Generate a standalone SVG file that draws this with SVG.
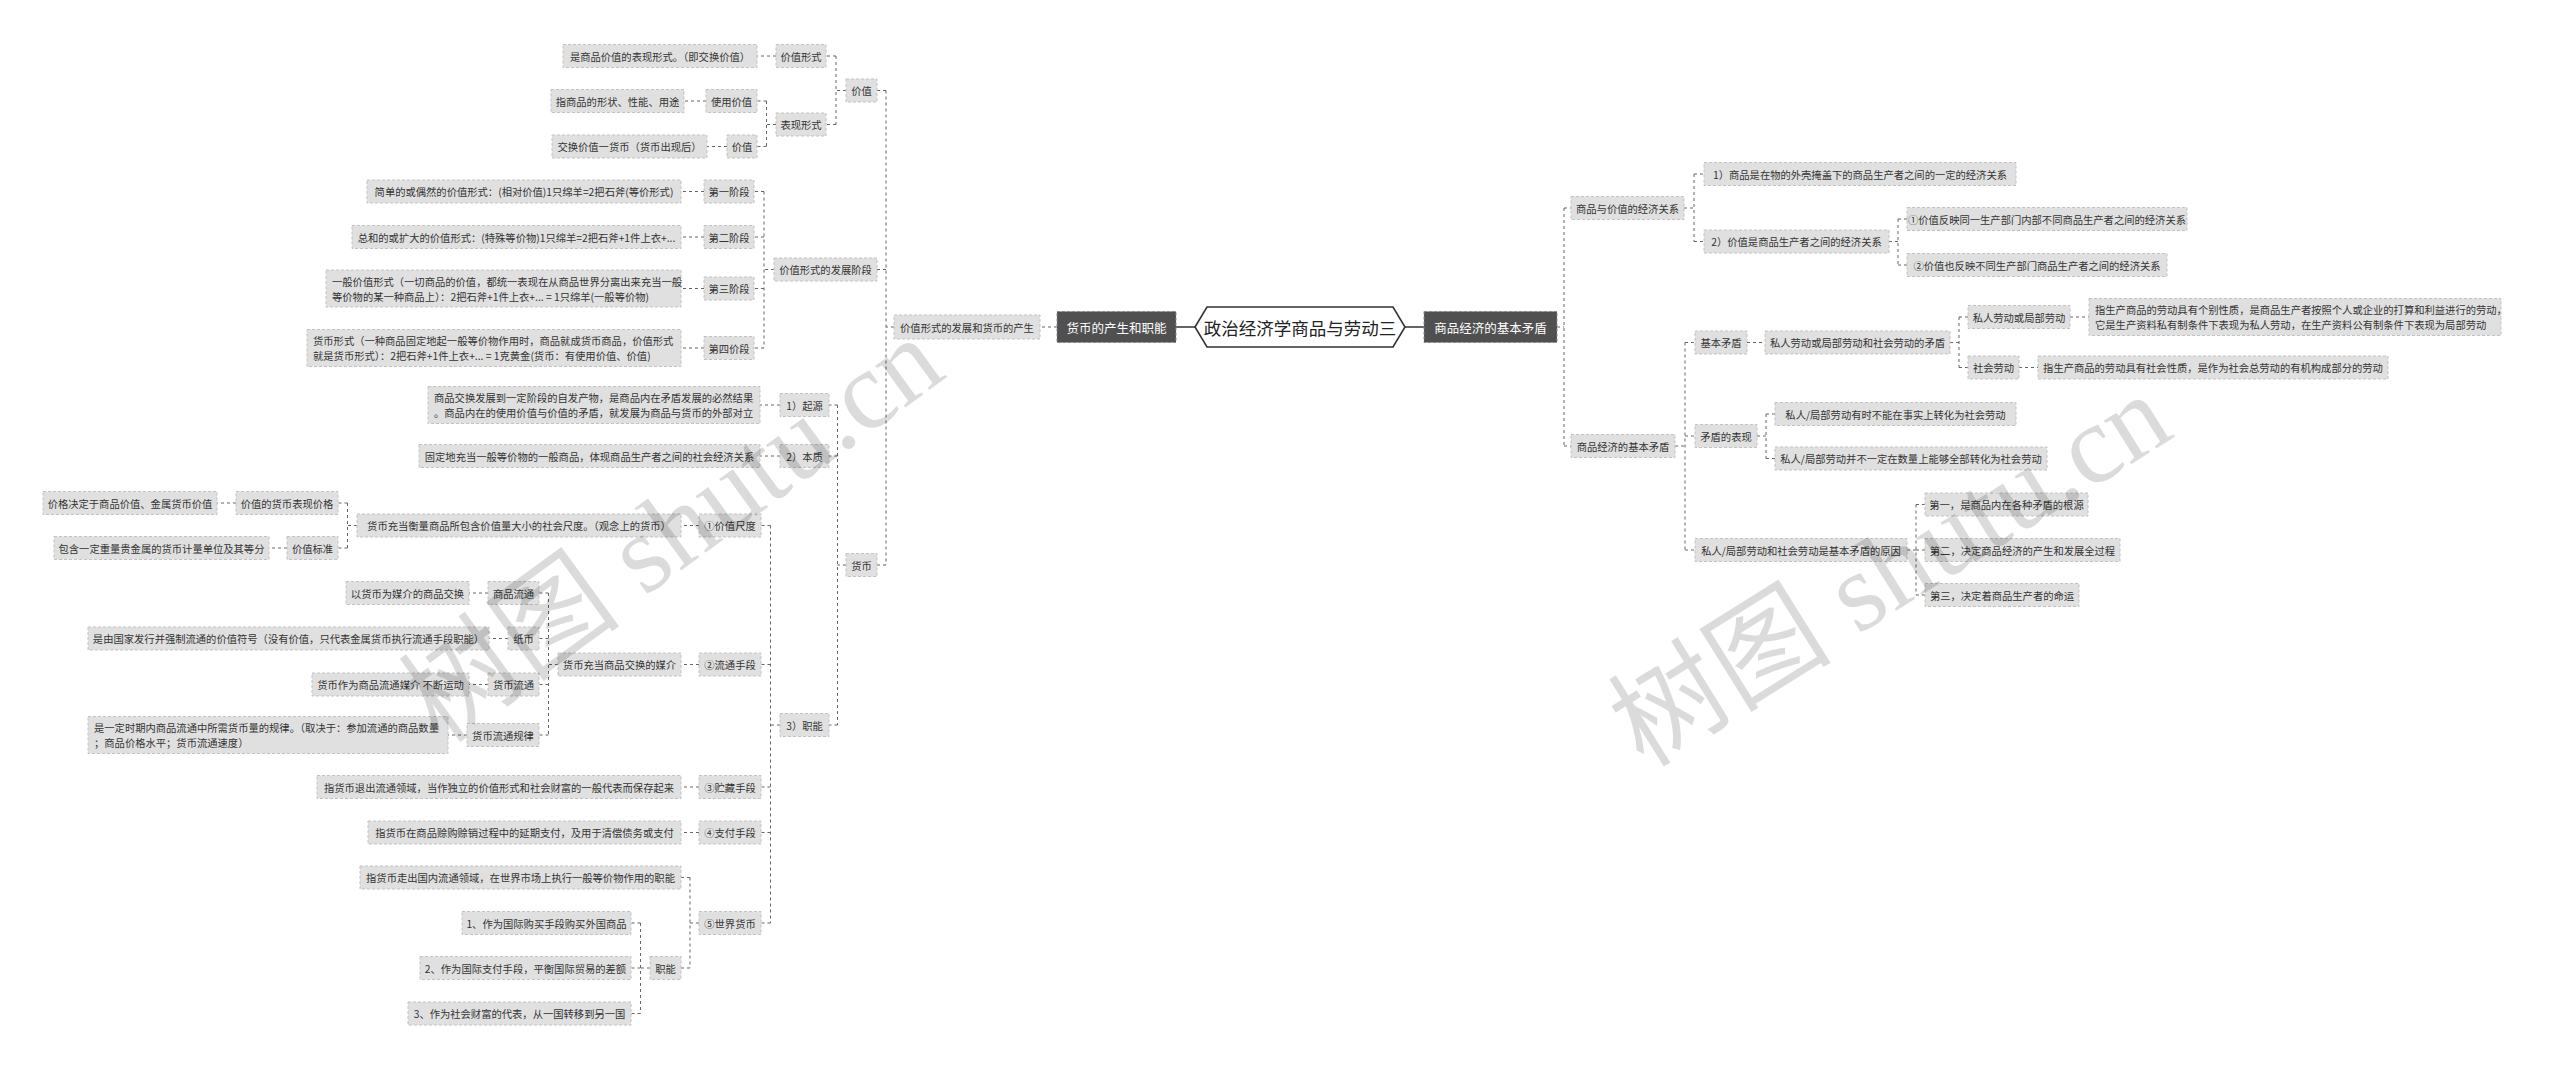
<svg xmlns="http://www.w3.org/2000/svg" width="2560" height="1069" viewBox="0 0 2560 1069">
<style>
.b{fill:#e0e0e0;stroke:#c2c2c2;stroke-width:1;stroke-dasharray:3 2}
.d{fill:#505050;stroke:#8a8a8a;stroke-width:1;stroke-dasharray:3 2}
.t{font-family:"Noto Sans CJK SC","Noto Sans",sans-serif;font-size:10.3px;fill:#333;dominant-baseline:central;text-anchor:middle}
.tl{font-family:"Noto Sans CJK SC","Noto Sans",sans-serif;font-size:10.3px;fill:#333;dominant-baseline:central;text-anchor:start}
.dt{font-family:"Noto Sans CJK SC","Noto Sans",sans-serif;font-size:12.5px;fill:#fff;dominant-baseline:central;text-anchor:middle}
.rt{font-family:"Noto Sans CJK SC","Noto Sans",sans-serif;font-size:17.5px;fill:#222;dominant-baseline:central;text-anchor:middle}
.c{fill:none;stroke:#666;stroke-width:1;stroke-dasharray:3 3}
.s{fill:none;stroke:#333;stroke-width:1.6}
.wm{font-family:"Liberation Serif","Noto Sans CJK SC",serif;font-size:112px;fill:#000;fill-opacity:0.14;text-anchor:middle;dominant-baseline:central}
</style>
<rect width="2560" height="1069" fill="#fff"/>
<g id="connectors">
<path class="s" d="M1176,327H1195M1405,327H1424"/>
<path class="c" d="M1057,327H1040"/>
<path class="c" d="M894,327H886M886,90.5V565M886,90.5H877M886,269.5H877M886,565H877"/>
<path class="c" d="M846,90.5H836M836,56V124.5M836,56H826M836,124.5H826"/>
<path class="c" d="M776,56H757"/>
<path class="c" d="M776,124.5H766.5M766.5,101V146.5M766.5,101H757M766.5,146.5H757"/>
<path class="c" d="M706,101H684M727,146.5H707"/>
<path class="c" d="M774,269.5H764M764,191.5V348M764,191.5H754M764,237H754M764,288.5H754M764,348H754"/>
<path class="c" d="M704,191.5H681M704,237H681M704,288.5H681M704,348H681"/>
<path class="c" d="M846,565H837.5M837.5,405V725M837.5,405H829M837.5,456H829M837.5,725H829"/>
<path class="c" d="M780,405H760M780,456H760"/>
<path class="c" d="M780,725H770.5M770.5,525.5V923M770.5,525.5H761M770.5,664.5H761M770.5,787H761M770.5,832.5H761M770.5,923H761"/>
<path class="c" d="M699,525.5H681"/>
<path class="c" d="M357,525.5H347.5M347.5,503V548M347.5,503H338M347.5,548H338"/>
<path class="c" d="M236,503H217M287,548H269"/>
<path class="c" d="M699,664.5H681"/>
<path class="c" d="M558,664.5H548.5M548.5,593V735M548.5,593H539M548.5,638.5H539M548.5,684.5H539M548.5,735H539"/>
<path class="c" d="M488,593H469M508,638.5H489M488,684.5H469M467,735H448"/>
<path class="c" d="M699,787H681M699,832.5H681"/>
<path class="c" d="M699,923H690M690,877.5V968M690,877.5H681M690,968H681"/>
<path class="c" d="M650,968H640.5M640.5,923V1013.5M640.5,923H631M640.5,968H631M640.5,1013.5H631"/>
<path class="c" d="M1557,327H1564M1564,208V446M1564,208H1571M1564,446H1571"/>
<path class="c" d="M1684,208H1694M1694,174V241.5M1694,174H1704M1694,241.5H1704"/>
<path class="c" d="M1889,241.5H1898M1898,219V265M1898,219H1907M1898,265H1907"/>
<path class="c" d="M1675,446H1685M1685,342.5V550M1685,342.5H1695M1685,436H1695M1685,550H1695"/>
<path class="c" d="M1747,342.5H1765"/>
<path class="c" d="M1950,342.5H1959M1959,317V367.5M1959,317H1968M1959,367.5H1968"/>
<path class="c" d="M2070,317H2089M2019,367.5H2038"/>
<path class="c" d="M1757,436H1766M1766,414V458.5M1766,414H1775M1766,458.5H1775"/>
<path class="c" d="M1907,550H1916M1916,504.5V595M1916,504.5H1925M1916,550H1925M1916,595H1925"/>
</g>
<g id="root"><path d="M1195,327L1207,307H1393L1405,327L1393,347H1207Z" fill="#fff" stroke="#333" stroke-width="1.6"/><text class="rt" x="1300" y="327">政治经济学商品与劳动三</text></g>
<g id="n-L1L"><rect class="d" x="1057" y="311.5" width="119" height="31"/><text class="dt" x="1116.5" y="327">货币的产生和职能</text></g>
<g id="n-L2L"><rect class="b" x="894" y="315" width="146" height="24"/><text class="t" x="967" y="327">价值形式的发展和货币的产生</text></g>
<g id="n-jz"><rect class="b" x="846" y="79" width="31" height="23"/><text class="t" x="861.5" y="90.5">价值</text></g>
<g id="n-jzxs"><rect class="b" x="776" y="44.5" width="50" height="23"/><text class="t" x="801" y="56">价值形式</text></g>
<g id="n-l-jzxs"><rect class="b" x="563" y="44.5" width="194" height="23"/><text class="t" x="660" y="56">是商品价值的表现形式。（即交换价值）</text></g>
<g id="n-bxxs"><rect class="b" x="776" y="113" width="50" height="23"/><text class="t" x="801" y="124.5">表现形式</text></g>
<g id="n-syjz"><rect class="b" x="706" y="89.5" width="51" height="23"/><text class="t" x="731.5" y="101">使用价值</text></g>
<g id="n-l-syjz"><rect class="b" x="551" y="89.5" width="133" height="23"/><text class="t" x="617.5" y="101">指商品的形状、性能、用途</text></g>
<g id="n-jz2"><rect class="b" x="727" y="135" width="30" height="23"/><text class="t" x="742" y="146.5">价值</text></g>
<g id="n-l-jz2"><rect class="b" x="552" y="135" width="155" height="23"/><text class="t" x="629.5" y="146.5">交换价值一货币（货币出现后）</text></g>
<g id="n-fzjd"><rect class="b" x="774" y="258" width="103" height="23"/><text class="t" x="825.5" y="269.5">价值形式的发展阶段</text></g>
<g id="n-s1"><rect class="b" x="704" y="180" width="50" height="23"/><text class="t" x="729" y="191.5">第一阶段</text></g>
<g id="n-l-s1"><rect class="b" x="367" y="180" width="314" height="23"/><text class="t" x="524" y="191.5">简单的或偶然的价值形式：(相对价值)1只绵羊=2把石斧(等价形式)</text></g>
<g id="n-s2"><rect class="b" x="704" y="225.5" width="50" height="23"/><text class="t" x="729" y="237">第二阶段</text></g>
<g id="n-l-s2"><rect class="b" x="352" y="225.5" width="329" height="23"/><text class="t" x="516.5" y="237">总和的或扩大的价值形式：(特殊等价物)1只绵羊=2把石斧+1件上衣+...</text></g>
<g id="n-s3"><rect class="b" x="704" y="277" width="50" height="23"/><text class="t" x="729" y="288.5">第三阶段</text></g>
<g id="n-l-s3"><rect class="b" x="326" y="270" width="355" height="37"/><text class="tl" x="332" y="281">一般价值形式（一切商品的价值，都统一表现在从商品世界分离出来充当一般</text><text class="tl" x="332" y="296">等价物的某一种商品上）：2把石斧+1件上衣+... = 1只绵羊(一般等价物)</text></g>
<g id="n-s4"><rect class="b" x="704" y="336.5" width="50" height="23"/><text class="t" x="729" y="348">第四价段</text></g>
<g id="n-l-s4"><rect class="b" x="307" y="329.5" width="374" height="37"/><text class="tl" x="313" y="340.5">货币形式（一种商品固定地起一般等价物作用时，商品就成货币商品，价值形式</text><text class="tl" x="313" y="355.5">就是货币形式）：2把石斧+1件上衣+... = 1克黄金(货币：有使用价值、价值)</text></g>
<g id="n-hb"><rect class="b" x="846" y="553.5" width="31" height="23"/><text class="t" x="861.5" y="565">货币</text></g>
<g id="n-qy"><rect class="b" x="780" y="393.5" width="49" height="23"/><text class="t" x="804.5" y="405">1）起源</text></g>
<g id="n-l-qy"><rect class="b" x="428" y="386.5" width="332" height="37"/><text class="tl" x="434" y="397.5">商品交换发展到一定阶段的自发产物，是商品内在矛盾发展的必然结果</text><text class="tl" x="434" y="412.5">。商品内在的使用价值与价值的矛盾，就发展为商品与货币的外部对立</text></g>
<g id="n-bz"><rect class="b" x="780" y="444.5" width="49" height="23"/><text class="t" x="804.5" y="456">2）本质</text></g>
<g id="n-l-bz"><rect class="b" x="419" y="444.5" width="341" height="23"/><text class="t" x="589.5" y="456">固定地充当一般等价物的一般商品，体现商品生产者之间的社会经济关系</text></g>
<g id="n-zn"><rect class="b" x="780" y="713.5" width="49" height="23"/><text class="t" x="804.5" y="725">3）职能</text></g>
<g id="n-f1"><rect class="b" x="699" y="514" width="62" height="23"/><text class="t" x="730" y="525.5">①价值尺度</text></g>
<g id="n-f1c"><rect class="b" x="357" y="514" width="324" height="23"/><text class="t" x="519" y="525.5">货币充当衡量商品所包含价值量大小的社会尺度。（观念上的货币）</text></g>
<g id="n-jg"><rect class="b" x="236" y="491.5" width="102" height="23"/><text class="t" x="287" y="503">价值的货币表现价格</text></g>
<g id="n-l-jg"><rect class="b" x="43" y="491.5" width="174" height="23"/><text class="t" x="130" y="503">价格决定于商品价值、金属货币价值</text></g>
<g id="n-jzbz"><rect class="b" x="287" y="536.5" width="51" height="23"/><text class="t" x="312.5" y="548">价值标准</text></g>
<g id="n-l-jzbz"><rect class="b" x="54" y="536.5" width="215" height="23"/><text class="t" x="161.5" y="548">包含一定重量贵金属的货币计量单位及其等分</text></g>
<g id="n-f2"><rect class="b" x="699" y="653" width="62" height="23"/><text class="t" x="730" y="664.5">②流通手段</text></g>
<g id="n-f2c"><rect class="b" x="558" y="653" width="123" height="23"/><text class="t" x="619.5" y="664.5">货币充当商品交换的媒介</text></g>
<g id="n-splt"><rect class="b" x="488" y="581.5" width="51" height="23"/><text class="t" x="513.5" y="593">商品流通</text></g>
<g id="n-l-splt"><rect class="b" x="346" y="581.5" width="123" height="23"/><text class="t" x="407.5" y="593">以货币为媒介的商品交换</text></g>
<g id="n-zb"><rect class="b" x="508" y="627" width="31" height="23"/><text class="t" x="523.5" y="638.5">纸币</text></g>
<g id="n-l-zb"><rect class="b" x="88" y="627" width="401" height="23"/><text class="t" x="288.5" y="638.5">是由国家发行并强制流通的价值符号（没有价值，只代表金属货币执行流通手段职能）</text></g>
<g id="n-hblt"><rect class="b" x="488" y="673" width="51" height="23"/><text class="t" x="513.5" y="684.5">货币流通</text></g>
<g id="n-l-hblt"><rect class="b" x="312" y="673" width="157" height="23"/><text class="t" x="390.5" y="684.5">货币作为商品流通媒介 不断运动</text></g>
<g id="n-gl"><rect class="b" x="467" y="723.5" width="72" height="23"/><text class="t" x="503" y="735">货币流通规律</text></g>
<g id="n-l-gl"><rect class="b" x="88" y="716.5" width="360" height="37"/><text class="tl" x="94" y="727.5">是一定时期内商品流通中所需货币量的规律。（取决于：参加流通的商品数量</text><text class="tl" x="94" y="742.5">；商品价格水平；货币流通速度）</text></g>
<g id="n-f3"><rect class="b" x="699" y="775.5" width="62" height="23"/><text class="t" x="730" y="787">③贮藏手段</text></g>
<g id="n-l-f3"><rect class="b" x="317" y="775.5" width="364" height="23"/><text class="t" x="499" y="787">指货币退出流通领域，当作独立的价值形式和社会财富的一般代表而保存起来</text></g>
<g id="n-f4"><rect class="b" x="699" y="821" width="62" height="23"/><text class="t" x="730" y="832.5">④支付手段</text></g>
<g id="n-l-f4"><rect class="b" x="368" y="821" width="313" height="23"/><text class="t" x="524.5" y="832.5">指货币在商品赊购赊销过程中的延期支付，及用于清偿债务或支付</text></g>
<g id="n-f5"><rect class="b" x="699" y="911.5" width="62" height="23"/><text class="t" x="730" y="923">⑤世界货币</text></g>
<g id="n-l-f5"><rect class="b" x="360" y="866" width="321" height="23"/><text class="t" x="520.5" y="877.5">指货币走出国内流通领域，在世界市场上执行一般等价物作用的职能</text></g>
<g id="n-zn2"><rect class="b" x="650" y="956.5" width="31" height="23"/><text class="t" x="665.5" y="968">职能</text></g>
<g id="n-z1"><rect class="b" x="462" y="911.5" width="169" height="23"/><text class="t" x="546.5" y="923">1、作为国际购买手段购买外国商品</text></g>
<g id="n-z2"><rect class="b" x="420" y="956.5" width="211" height="23"/><text class="t" x="525.5" y="968">2、作为国际支付手段，平衡国际贸易的差额</text></g>
<g id="n-z3"><rect class="b" x="408" y="1002" width="223" height="23"/><text class="t" x="519.5" y="1013.5">3、作为社会财富的代表，从一国转移到另一国</text></g>
<g id="n-L1R"><rect class="d" x="1424" y="311.5" width="133" height="31"/><text class="dt" x="1490.5" y="327">商品经济的基本矛盾</text></g>
<g id="n-r1"><rect class="b" x="1571" y="196.5" width="113" height="23"/><text class="t" x="1627.5" y="208">商品与价值的经济关系</text></g>
<g id="n-r11"><rect class="b" x="1704" y="162.5" width="312" height="23"/><text class="t" x="1860" y="174">1）商品是在物的外壳掩盖下的商品生产者之间的一定的经济关系</text></g>
<g id="n-r12"><rect class="b" x="1704" y="230" width="185" height="23"/><text class="t" x="1796.5" y="241.5">2）价值是商品生产者之间的经济关系</text></g>
<g id="n-r121"><rect class="b" x="1907" y="207.5" width="280" height="23"/><text class="t" x="2047" y="219">①价值反映同一生产部门内部不同商品生产者之间的经济关系</text></g>
<g id="n-r122"><rect class="b" x="1907" y="253.5" width="260" height="23"/><text class="t" x="2037" y="265">②价值也反映不同生产部门商品生产者之间的经济关系</text></g>
<g id="n-r2"><rect class="b" x="1571" y="434.5" width="104" height="23"/><text class="t" x="1623" y="446">商品经济的基本矛盾</text></g>
<g id="n-jbmd"><rect class="b" x="1695" y="331" width="52" height="23"/><text class="t" x="1721" y="342.5">基本矛盾</text></g>
<g id="n-jbmdc"><rect class="b" x="1765" y="331" width="185" height="23"/><text class="t" x="1857.5" y="342.5">私人劳动或局部劳动和社会劳动的矛盾</text></g>
<g id="n-srld"><rect class="b" x="1968" y="305.5" width="102" height="23"/><text class="t" x="2019" y="317">私人劳动或局部劳动</text></g>
<g id="n-l-srld"><rect class="b" x="2089" y="298.5" width="412" height="37"/><text class="tl" x="2095" y="309.5">指生产商品的劳动具有个别性质，是商品生产者按照个人或企业的打算和利益进行的劳动，</text><text class="tl" x="2095" y="324.5">它是生产资料私有制条件下表现为私人劳动，在生产资料公有制条件下表现为局部劳动</text></g>
<g id="n-shld"><rect class="b" x="1968" y="356" width="51" height="23"/><text class="t" x="1993.5" y="367.5">社会劳动</text></g>
<g id="n-l-shld"><rect class="b" x="2038" y="356" width="350" height="23"/><text class="t" x="2213" y="367.5">指生产商品的劳动具有社会性质，是作为社会总劳动的有机构成部分的劳动</text></g>
<g id="n-mdbx"><rect class="b" x="1695" y="424.5" width="62" height="23"/><text class="t" x="1726" y="436">矛盾的表现</text></g>
<g id="n-bx1"><rect class="b" x="1775" y="402.5" width="241" height="23"/><text class="t" x="1895.5" y="414">私人/局部劳动有时不能在事实上转化为社会劳动</text></g>
<g id="n-bx2"><rect class="b" x="1775" y="447" width="272" height="23"/><text class="t" x="1911" y="458.5">私人/局部劳动并不一定在数量上能够全部转化为社会劳动</text></g>
<g id="n-yy"><rect class="b" x="1695" y="538.5" width="212" height="23"/><text class="t" x="1801" y="550">私人/局部劳动和社会劳动是基本矛盾的原因</text></g>
<g id="n-d1"><rect class="b" x="1925" y="493" width="163" height="23"/><text class="t" x="2006.5" y="504.5">第一，是商品内在各种矛盾的根源</text></g>
<g id="n-d2"><rect class="b" x="1925" y="538.5" width="195" height="23"/><text class="t" x="2022.5" y="550">第二，决定商品经济的产生和发展全过程</text></g>
<g id="n-d3"><rect class="b" x="1925" y="583.5" width="154" height="23"/><text class="t" x="2002" y="595">第三，决定着商品生产者的命运</text></g>
<g id="watermarks">
<text class="wm" x="672" y="530" transform="rotate(-36 672 530)">树图 shutu.cn</text>
<text class="wm" x="1890" y="570" transform="rotate(-32 1890 570)">树图 shutu.cn</text>
</g>
</svg>
